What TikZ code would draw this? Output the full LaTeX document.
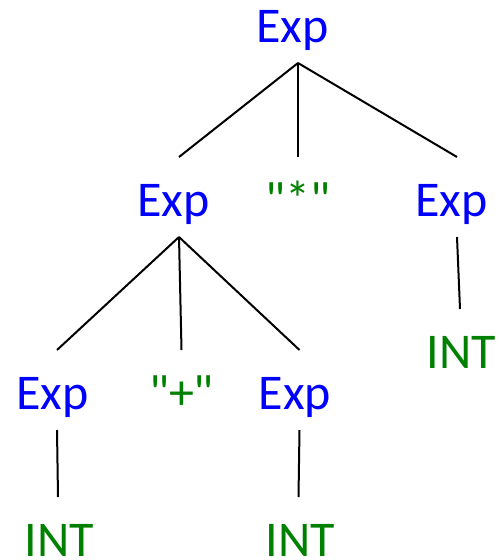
\documentclass[tikz,border=0pt]{standalone}
\usepackage{fontspec}
\setmainfont{Carlito}
\usetikzlibrary{positioning}
\definecolor{ntblue}{RGB}{0,0,255}
\definecolor{tgreen}{RGB}{0,128,0}
\newcommand{\dq}{\XeTeXglyph\XeTeXcharglyph"22\relax}
\begin{document}
\begin{tikzpicture}[x=1pt,y=-1pt]
      \useasboundingbox (0,0) rectangle (499,560);
      \begin{scope}[anchor=base,inner sep=0pt,outer sep=21pt,text height=38pt,text depth=0pt,font=\fontsize{50}{60}\selectfont]
          \tikzstyle{nt}=[text=ntblue]
          \tikzstyle{tok}=[text=tgreen]
          \node[nt]  (exp0)  at (292.5,42)  {Exp};
          \node[nt]  (exp1)  at (173.5,216) {Exp};
          \node[tok] (star)  at (298  ,216) {\dq*\dq};
          \node[nt]  (exp2)  at (451.5,216) {Exp};
          \node[nt]  (exp3)  at (52.5 ,409) {Exp};
          \node[tok] (plus)  at (181.5,409) {\dq+\dq};
          \node[nt]  (exp4)  at (295  ,409) {Exp};
          \node[tok] (int1)  at (59.5 ,556) {INT};
          \node[tok] (int2)  at (300.5,556) {INT};
          \node[tok] (int3)  at (461.5,368) {INT};
      \end{scope}

      \tikzstyle{edge}=[line width=2pt]
      \draw[edge] ([xshift=5.5pt]exp0.south) -- ([xshift=5.5pt]exp1.north);
      \draw[edge] ([xshift=5.5pt]exp0.south) -- (star.north);
      \draw[edge] ([xshift=5.5pt]exp0.south) -- ([xshift=5.5pt]exp2.north);
      \draw[edge] ([xshift=5.5pt]exp2.south) -- ([xshift=-1.5pt]int3.north);
      \draw[edge] ([xshift=5.5pt]exp1.south) -- ([xshift=4.5pt]exp3.north);
      \draw[edge] ([xshift=5.5pt]exp1.south) -- (plus.north);
      \draw[edge] ([xshift=5.5pt]exp1.south) -- ([xshift=4.5pt]exp4.north);
      \draw[edge] ([xshift=4.5pt]exp3.south) -- ([xshift=-1.5pt]int1.north);
      \draw[edge] ([xshift=4.5pt]exp4.south) -- ([xshift=-2pt]int2.north);
\end{tikzpicture}
\end{document}
